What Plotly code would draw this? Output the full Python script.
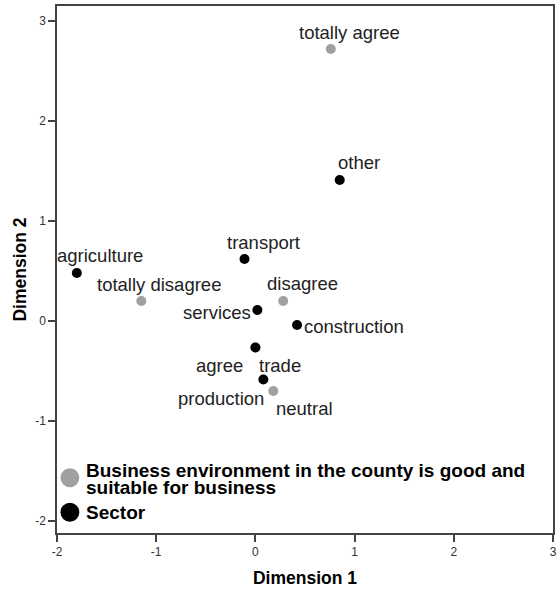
import plotly.graph_objects as go

# ---- data ----
opinion_labels = ["totally agree", "agree", "neutral", "disagree", "totally disagree"]
opinion_x = [0.76, 0.00, 0.18, 0.28, -1.15]
opinion_y = [2.72, -0.265, -0.70, 0.20, 0.20]

sector_labels = ["agriculture", "transport", "services", "construction", "other", "trade", "production"]
sector_x = [-1.80, -0.11, 0.02, 0.42, 0.85, 0.00, 0.08]
sector_y = [0.48, 0.62, 0.11, -0.04, 1.41, -0.265, -0.585]

x_ticks = [-2, -1, 0, 1, 2, 3]
y_ticks = [-2, -1, 0, 1, 2, 3]

legend_opinion = "Business environment in the county is good and suitable for business"
legend_sector = "Sector"

# ---- label placement (style) : (xshift, yshift, xanchor) ----
opinion_pos = {
    "totally agree": (19, 17, "center"),
    "agree": (-36, -18, "center"),
    "neutral": (31, -17, "center"),
    "disagree": (19, 18, "center"),
    "totally disagree": (18, 17, "center"),
}
sector_pos = {
    "agriculture": (23, 18, "center"),
    "transport": (19, 17, "center"),
    "services": (-4, -2, "right"),
    "construction": (5, -1, "left"),
    "other": (19, 18, "center"),
    "trade": (25, -18, "center"),
    "production": (3, -19, "right"),
}

FONT = "Liberation Sans, Arial, sans-serif"
GRAY = "#a0a0a0"

fig = go.Figure()
fig.add_trace(go.Scatter(x=opinion_x, y=opinion_y, mode="markers", name=legend_opinion,
                         marker=dict(color=GRAY, size=10), showlegend=False))
fig.add_trace(go.Scatter(x=sector_x, y=sector_y, mode="markers", name=legend_sector,
                         marker=dict(color="black", size=10), showlegend=False))

anns = []
for lab, x, y in zip(opinion_labels, opinion_x, opinion_y):
    xs, ys, xa = opinion_pos[lab]
    anns.append(dict(x=x, y=y, xref="x", yref="y", text=lab, showarrow=False,
                     xshift=xs, yshift=ys, xanchor=xa, yanchor="middle",
                     font=dict(family=FONT, size=18.5, color="#222222")))
for lab, x, y in zip(sector_labels, sector_x, sector_y):
    xs, ys, xa = sector_pos[lab]
    anns.append(dict(x=x, y=y, xref="x", yref="y", text=lab, showarrow=False,
                     xshift=xs, yshift=ys, xanchor=xa, yanchor="middle",
                     font=dict(family=FONT, size=18.5, color="#222222")))

# manual legend (bottom-left, inside the plot)
leg_font = dict(family=FONT, size=19, color="black")
words = legend_opinion.split(" ")
line1 = " ".join(words[:8])
line2 = " ".join(words[8:])
anns.append(dict(x=-1.73, y=-1.495, xref="x", yref="y", text="<b>%s</b>" % line1, showarrow=False,
                 xanchor="left", yanchor="middle", font=leg_font))
anns.append(dict(x=-1.73, y=-1.66, xref="x", yref="y", text="<b>%s</b>" % line2, showarrow=False,
                 xanchor="left", yanchor="middle", font=leg_font))
anns.append(dict(x=-1.73, y=-1.91, xref="x", yref="y", text="<b>%s</b>" % legend_sector, showarrow=False,
                 xanchor="left", yanchor="middle", font=leg_font))

shapes = [
    dict(type="circle", xref="x", yref="y", x0=-1.965, x1=-1.775, y0=-1.662, y1=-1.472,
         fillcolor=GRAY, line=dict(width=0)),
    dict(type="circle", xref="x", yref="y", x0=-1.965, x1=-1.775, y0=-2.008, y1=-1.818,
         fillcolor="black", line=dict(width=0)),
]

axis_common = dict(showgrid=False, zeroline=False, showline=True, mirror=True,
                   linecolor="#444444", linewidth=1.5, ticks="outside", ticklen=7,
                   tickcolor="#444444", tickwidth=1.5, ticklabeloverflow="allow",
                   tickfont=dict(family=FONT, size=12, color="#333333"))

fig.update_layout(
    width=558, height=591,
    margin=dict(l=57, r=1, t=6, b=58),
    paper_bgcolor="white", plot_bgcolor="white",
    showlegend=False,
    annotations=anns, shapes=shapes,
    xaxis=dict(range=[-2, 3], tickvals=x_ticks, ticktext=[str(v) for v in x_ticks],
               title=dict(text="<b>Dimension 1</b>", font=dict(family=FONT, size=17.5, color="black"),
                          standoff=14),
               **axis_common),
    yaxis=dict(range=[-2.12, 3.15], tickvals=y_ticks, ticktext=[str(v) for v in y_ticks],
               title=dict(text="<b>Dimension 2</b>", font=dict(family=FONT, size=17.5, color="black"),
                          standoff=4),
               **axis_common),
)

fig.write_html("out.html", config={"displayModeBar": False},
               post_script="document.body.style.margin='0';document.body.style.padding='0';")
